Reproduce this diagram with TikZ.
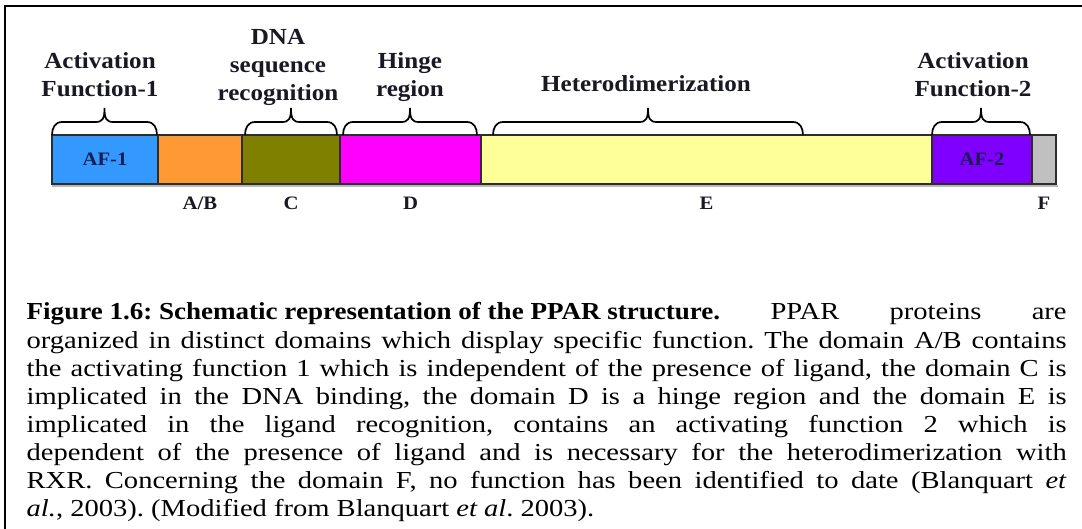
\documentclass[tikz,border=0pt]{standalone}
\usepackage{graphicx}
\usepackage{fontspec}
\setmainfont{Liberation Serif}[FakeStretch=1.17]
\newfontfamily\diagfont{Liberation Serif}[FakeStretch=1.09]
\definecolor{afone}{RGB}{51,153,255}
\definecolor{abcol}{RGB}{255,153,51}
\definecolor{ccol}{RGB}{128,128,0}
\definecolor{dcol}{RGB}{255,0,255}
\definecolor{ecol}{RGB}{255,255,153}
\definecolor{aftwo}{RGB}{128,0,255}
\definecolor{fcol}{RGB}{192,192,192}
\definecolor{barline}{RGB}{45,45,45}
\definecolor{labink}{RGB}{25,25,35}
\definecolor{afink}{RGB}{25,30,80}
\begin{document}
\begin{tikzpicture}[x=1pt,y=-1pt,
  seg/.style={draw=barline, line width=1.3pt, minimum height=49pt, inner sep=0pt, outer sep=0pt, anchor=west},
  bracestyle/.style={draw=black, line width=1.7pt},
  lab/.style={font=\diagfont\bfseries\fontsize{23}{28.3}\selectfont, align=center, anchor=base, inner sep=0pt, text=labink},
  inlab/.style={font=\diagfont\bfseries\fontsize{19}{21}\selectfont, inner sep=0pt, text=afink},
  botlab/.style={font=\diagfont\bfseries\fontsize{19}{21}\selectfont, inner sep=0pt, anchor=base, text=labink},
  pics/curly/.style={code={
    \draw[bracestyle] (0,0) .. controls (0,-7) and (3,-13) .. (10,-13) -- ({#1/2-9},-13)
      .. controls ({#1/2-2},-13) and ({#1/2},-16) .. ({#1/2},-27)
      .. controls ({#1/2},-16) and ({#1/2+2},-13) .. ({#1/2+9},-13) -- ({#1-10},-13)
      .. controls ({#1-3},-13) and (#1,-7) .. (#1,0);
  }}]
\useasboundingbox (0,0) rectangle (1082,529);
\fill[white] (0,0) rectangle (1082,529);
% frame
\draw[line width=2pt] (5,530) -- (5,6) -- (1083,6);
% bar
\node[seg, fill=afone, minimum width=106pt] (af1) at (52,159.5) {};
\node[seg, fill=abcol, minimum width=84pt] (ab) at (af1.east) {};
\node[seg, fill=ccol, minimum width=98pt] (c) at (ab.east) {};
\node[seg, fill=dcol, minimum width=141pt] (d) at (c.east) {};
\node[seg, fill=ecol, minimum width=451pt] (e) at (d.east) {};
\node[seg, fill=aftwo, minimum width=100pt] (af2) at (e.east) {};
\node[seg, fill=fcol, minimum width=24pt] (f) at (af2.east) {};
\fill[gray!55] ([yshift=-0.7pt]af1.south west) rectangle ([xshift=2pt,yshift=-2.6pt]f.south east);
\node[inlab] (af1t) at (af1.center) {AF-1};
\node[inlab] (af2t) at (af2.center) {AF-2};
% braces
\pic at (af1.north west) {curly=105};
\pic at ([xshift=3pt]c.north west) {curly=92};
\pic at ([xshift=3pt]d.north west) {curly=134};
\pic at ([xshift=12pt]e.north west) {curly=310};
\pic at (af2.north west) {curly=98};
% top labels (anchor = baseline of last line)
\node[lab] (l1) at (100,96.7) {Activation\\Function-1};
\node[lab] (l2) at (278,101) {DNA\\sequence\\recognition};
\node[lab] (l3) at (410,97) {Hinge\\region};
\node[lab] (l4) at (646,92) {Heterodimerization};
\node[lab] (l5) at (973,97) {Activation\\Function-2};
% bottom labels
\node[botlab] (bab) at ([yshift=-26pt]ab.south) {A/B};
\node[botlab] (bc) at ([yshift=-26pt]c.south) {C};
\node[botlab] (bd) at ([yshift=-26pt]d.south) {D};
\node[botlab] (be) at ([yshift=-26pt]e.south) {E};
\node[botlab] (bf) at ([yshift=-26pt]f.south) {F};
% caption
\node[anchor=base west, inner sep=0pt, text width=1040pt, align=justify,
      font=\fontsize{24.4}{28.1}\selectfont] (cap) at (26.5,320) {%
\frenchspacing\tolerance=10000\textbf{\scalebox{0.947}[1]{Figure 1.6: Schematic representation of the PPAR structure.}} PPAR proteins are\linebreak
organized in distinct domains which display specific function. The domain A/B contains\linebreak
the activating function 1 which is independent of the presence of ligand, the domain C is\linebreak
implicated in the DNA binding, the domain D is a hinge region and the domain E is\linebreak
implicated in the ligand recognition, contains an activating function 2 which is\linebreak
dependent of the presence of ligand and is necessary for the heterodimerization with\linebreak
RXR. Concerning the domain F, no function has been identified to date (Blanquart \textit{et}\linebreak
\textit{al.}, 2003). (Modified from Blanquart \textit{et al}. 2003).};
\end{tikzpicture}
\end{document}
